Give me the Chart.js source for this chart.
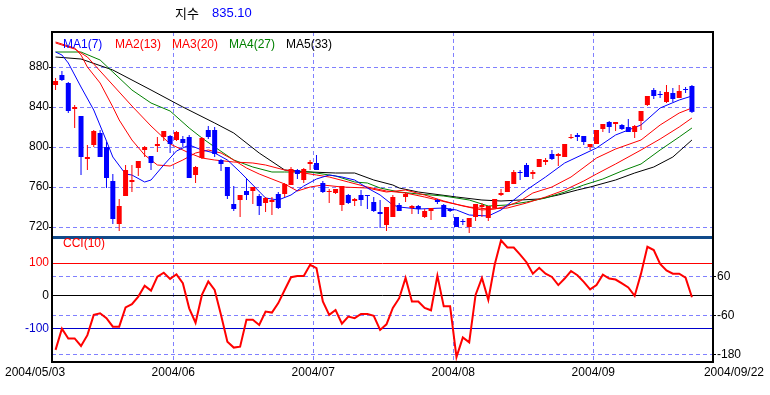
<!DOCTYPE html>
<html>
<head>
<meta charset="utf-8">
<script src="https://cdn.jsdelivr.net/npm/chart.js@4.4.1/dist/chart.umd.min.js"></script>
<style>
body { margin: 0; background: #fff; }
#wrap { position: relative; width: 770px; height: 395px; }
canvas { position: absolute; left: 0; }
#priceCanvas { top: 0; }
#cciCanvas { top: 236px; }
</style>
</head>
<body>
<div id="wrap">
<canvas id="priceCanvas" width="770" height="240"></canvas>
<canvas id="cciCanvas" width="770" height="159"></canvas>
</div>
<script>
// ---- data ----
const titleName = '지수'
const maNames = ['MA1(7)', 'MA2(13)', 'MA3(20)', 'MA4(27)', 'MA5(33)']
const cciName = 'CCI(10)'
const xLabels = ['2004/05/03', '2004/06', '2004/07', '2004/08', '2004/09', '2004/09/22']
const monthStarts = [19, 41, 63, 85]   // bar index of first trading day of Jun..Sep
const priceTicks = [720, 760, 800, 840, 880]
const cciLevels = [100, 0, -100]
const cciTicks = [60, -60, -180]

const openP  = [862,872,864,838,831,788,802,814,800,766, 723,751,765,779,797,791,801,810,811,807,
                808,810,772,789,817,817,787,780,743,747, 756,756,751,744,745,753,753,762,777,767,
                783,784,764,755,754,742,752,746,752,752, 745,735,722,730,742,750,739,741,730,736,
                747,742,738,730,726,720,730,740,729,739, 752,755,763,775,782,773,780,785,793,791,
                790,809,812,811,800,803,818,825,823,822, 820,815,826,842,857,853,845,854,849,858, 861]
const highP  = [869,876,865,842,831,802,817,817,805,773, 748,782,782,786,801,791,810,816,812,816,
                811,812,781,810,821,820,788,780,761,752, 769,760,753,750,750,755,764,780,778,779,
                787,792,766,758,758,761,753,749,757,752, 750,747,740,752,744,755,742,742,738,739,
                748,743,739,730,728,729,743,744,741,748, 758,766,777,777,784,777,788,789,797,794,
                803,813,814,811,803,817,823,826,825,823, 828,822,836,851,859,856,862,859,862,860, 862]
const lowP   = [857,866,834,819,772,777,800,790,759,723, 716,751,755,771,790,777,795,806,794,806,
                800,769,764,788,808,790,776,748,736,730, 747,743,732,735,732,738,750,762,768,764,
                777,777,754,744,753,736,743,741,741,738, 735,719,716,730,736,745,733,733,729,727,
                743,730,735,720,722,714,726,730,726,739, 751,755,763,767,770,768,780,782,787,781,
                790,808,806,802,797,803,815,814,816,817, 815,809,817,841,848,849,844,845,849,854, 834]
const closeP = [866,867,836,840,790,790,816,790,769,728, 741,777,767,786,800,784,803,816,803,815,
                804,769,780,809,810,793,783,751,738,752, 752,760,741,749,747,739,763,778,773,778,
                785,777,755,756,758,761,744,748,747,751, 736,733,740,750,736,753,741,738,736,739,
                745,730,736,720,725,729,743,742,741,748, 754,766,775,774,770,775,788,787,788,793,
                803,810,810,805,803,817,823,820,825,818, 815,821,836,851,851,852,855,848,856,857, 835.1]

const ma1Idx = [0,1,2,4,6,8,9,11,12,14,15,17,19,21,23,25,27,29,31,33,35,37,39,41,43,45,47,49,51,53,54,57,61,63,65,68,70,72,74,77,80,85,88,92,95,98,100]
const ma1    = [895,892,884,860,837,806,790,773,772,765,767,782,796,802,797,794,787,775,762,749,747,752,761,768,772,770,767,759,752,742,740,738,739,737,732,731,737,747,757,770,784,799,812,822,839,847,851]
const ma2Idx = [0,2,3,4,5,7,9,10,12,14,16,18,20,22,24,26,28,30,32,34,36,38,40,42,45,49,52,55,58,61,64,67,69,71,73,75,78,81,85,88,92,95,98,100]
const ma2    = [905,901,899,892,880,864,840,827,807,792,782,781,787,794,797,794,787,779,773,768,763,756,760,762,760,759,755,757,752,746,741,737,738,741,746,754,760,770,789,798,807,822,834,839]
const ma3Idx = [0,3,5,8,12,15,18,21,23,25,28,31,33,36,39,41,43,46,49,52,55,58,62,65,68,71,74,77,80,83,85,88,92,95,98,100]
const ma3    = [904,898,890,869,841,821,803,794,789,787,785,784,782,777,774,772,770,765,760,756,754,750,744,740,738,739,744,750,757,766,773,783,797,808,820,829]
const ma4Idx = [0,4,7,9,12,15,18,21,23,25,28,31,34,36,40,44,47,49,51,54,57,61,65,68,71,74,77,80,83,86,89,92,95,98,100]
const ma4    = [895,895,887,875,857,844,836,819,809,800,787,780,775,775,775,771,765,764,759,755,753,751,747,741,742,745,749,755,762,768,776,783,797,810,819]
const ma5Idx = [0,4,9,15,20,25,28,32,36,40,44,47,50,53,54,57,63,67,70,73,76,79,82,84,88,91,94,97,100]
const ma5    = [890,888,877,857,840,824,814,794,777,775,774,774,767,762,759,755,750,747,746,747,748,752,757,760,767,774,780,790,807]

const cci = [-165,-100,-130,-130,-153,-120,-58,-53,-68,-94,
             -94,-35,-25,-2,31,16,59,71,52,66,
             39,-38,-82,3,44,18,-58,-140,-158,-155,
             -73,-73,-89,-48,-51,-22,18,57,61,61,
             95,85,-17,-58,-43,-85,-63,-68,-55,-55,
             -61,-104,-87,-37,-7,55,-17,-17,-37,-44,
             62,-32,-32,-187,-127,-142,3,55,-12,95,
             170,148,148,126,103,68,86,68,58,33,
             53,76,63,43,20,33,65,53,50,38,
             26,0,68,150,140,98,78,68,68,56,
             -4]

// ---- styling ----
Chart.defaults.font.family = "'Liberation Sans', Arial, sans-serif"
Chart.defaults.font.size = 12
Chart.defaults.color = '#000'

const UP = '#ff0000'
const DOWN = '#0000ff'
const GRID = '#8080ff'
const maColors = ['#0000ff', '#ff0000', '#ff0000', '#008000', '#000000']

const bars = openP.map((v, i) => i)
const candleColor = (ctx) => closeP[ctx.dataIndex] >= openP[ctx.dataIndex] ? UP : DOWN

// fixed box sizes so the plot areas line up with the reference
function fixBox(w, h) {
    return (s) => {
        if (w !== null) s.width = w
        if (h !== null) s.height = h
        s.paddingTop = 0
        s.paddingBottom = 0
        s.paddingLeft = 0
        s.paddingRight = 0
    }
}

function xScale(h) {
    return {
        type: 'linear', min: -0.56, max: 103.31, offset: false,
        afterBuildTicks: (s) => { s.ticks = monthStarts.map(v => ({ value: v - 0.5 })) },
        afterFit: fixBox(null, h),
        ticks: { display: false },
        grid: { color: GRID, drawTicks: false, offset: false },
        border: { display: false, dash: [4, 3] }
    }
}

const maSeries = [[ma1Idx, ma1], [ma2Idx, ma2], [ma3Idx, ma3], [ma4Idx, ma4], [ma5Idx, ma5]]
const maDatasets = maSeries.map((s, k) => ({
    type: 'line',
    data: s[0].map((x, j) => ({ x: x, y: s[1][j] })),
    borderColor: maColors[k],
    borderWidth: 1,
    pointRadius: 0,
    tension: 0,
    fill: false,
    order: 2
}))

const pricePlugin = {
    id: 'priceDecor',
    afterDraw(chart) {
        const ctx = chart.ctx
        ctx.save()
        ctx.textBaseline = 'middle'
        ctx.textAlign = 'left'
        ctx.font = "13px 'Noto Sans CJK KR'"
        ctx.fillStyle = '#000'
        ctx.fillText(titleName, 175, 13)
        ctx.font = "13px 'Liberation Sans', Arial"
        ctx.fillStyle = '#0000ff'
        ctx.fillText(closeP[closeP.length - 1].toFixed(2), 212, 13)

        ctx.font = "12px 'Liberation Sans', Arial"
        const legendX = [63, 115, 172, 229, 286]
        maNames.forEach((n, k) => {
            ctx.fillStyle = maColors[k]
            ctx.fillText(n, legendX[k], 45)
        })

        ctx.fillStyle = '#000'
        ctx.fillRect(51, 31, 663, 2)
        ctx.fillRect(51, 31, 2, 209)
        ctx.fillRect(712, 31, 2, 209)
        ctx.restore()
    }
}

new Chart(document.getElementById('priceCanvas'), {
    type: 'bar',
    data: {
        datasets: [
            {
                type: 'bar',
                data: bars.map(i => ({ x: i, y: [openP[i], closeP[i]] })),
                backgroundColor: candleColor,
                barThickness: 5,
                grouped: false,
                inflateAmount: 0,
                order: 0
            },
            {
                type: 'bar',
                data: bars.map(i => ({ x: i, y: [lowP[i], highP[i]] })),
                backgroundColor: candleColor,
                barThickness: 1,
                grouped: false,
                inflateAmount: 0,
                order: 1
            },
            ...maDatasets
        ]
    },
    options: {
        responsive: false,
        animation: false,
        events: [],
        layout: { padding: { top: 32, right: 57, bottom: 3, left: 0 } },
        plugins: { legend: { display: false }, tooltip: { enabled: false } },
        scales: {
            x: xScale(0),
            y: {
                type: 'linear', min: 710, max: 915, beginAtZero: false,
                afterBuildTicks: (s) => { s.ticks = priceTicks.map(v => ({ value: v })) },
                afterFit: fixBox(52, null),
                ticks: { padding: 0, color: '#000' },
                grid: { color: GRID, tickColor: '#000', tickLength: 3 },
                border: { display: false, dash: [4, 3] }
            }
        }
    },
    plugins: [pricePlugin]
})

const levelColor = (v) => v > 0 ? '#ff0000' : (v < 0 ? '#0000cc' : '#000000')

const cciPlugin = {
    id: 'cciDecor',
    afterDraw(chart) {
        const ctx = chart.ctx
        const x = chart.scales.x
        ctx.save()
        ctx.fillStyle = '#104a8a'
        ctx.fillRect(52, 0, 662, 3)
        ctx.fillStyle = '#000'
        ctx.fillRect(51, 0, 2, 127)
        ctx.fillRect(712, 0, 2, 127)
        ctx.fillRect(51, 125, 663, 2)

        ctx.textBaseline = 'middle'
        ctx.font = "12px 'Liberation Sans', Arial"
        ctx.fillStyle = '#ff0000'
        ctx.textAlign = 'left'
        ctx.fillText(cciName, 63, 8)

        ctx.fillStyle = '#000'
        ctx.fillText(xLabels[0], 5, 137)
        ctx.textAlign = 'center'
        monthStarts.forEach((m, k) => {
            ctx.fillText(xLabels[k + 1], x.getPixelForValue(m - 0.5), 137)
        })
        ctx.textAlign = 'right'
        ctx.fillText(xLabels[xLabels.length - 1], 764, 137)
        ctx.restore()
    }
}

new Chart(document.getElementById('cciCanvas'), {
    type: 'line',
    data: {
        datasets: [{
            data: bars.map(i => ({ x: i, y: cci[i] })),
            borderColor: '#ff0000',
            borderWidth: 2,
            pointRadius: 0,
            tension: 0,
            fill: false
        }]
    },
    options: {
        responsive: false,
        animation: false,
        events: [],
        layout: { padding: { top: 1, right: 0, bottom: 0, left: 0 } },
        plugins: { legend: { display: false }, tooltip: { enabled: false } },
        scales: {
            x: xScale(33),
            y: {
                position: 'left', min: -202, max: 180, beginAtZero: false,
                afterBuildTicks: (s) => { s.ticks = cciLevels.map(v => ({ value: v })) },
                afterFit: fixBox(52, null),
                ticks: { padding: 3, color: (c) => c.tick ? levelColor(c.tick.value) : '#000' },
                grid: { color: (c) => c.tick ? levelColor(c.tick.value) : '#000', drawTicks: false },
                border: { display: false }
            },
            y2: {
                position: 'right', min: -202, max: 180, beginAtZero: false,
                afterBuildTicks: (s) => { s.ticks = cciTicks.map(v => ({ value: v })) },
                afterFit: fixBox(57, null),
                ticks: { padding: 1, color: '#000' },
                grid: { color: GRID, tickColor: '#000', tickLength: 3 },
                border: { display: false, dash: [4, 3] }
            }
        }
    },
    plugins: [cciPlugin]
})
</script>
</body>
</html>
